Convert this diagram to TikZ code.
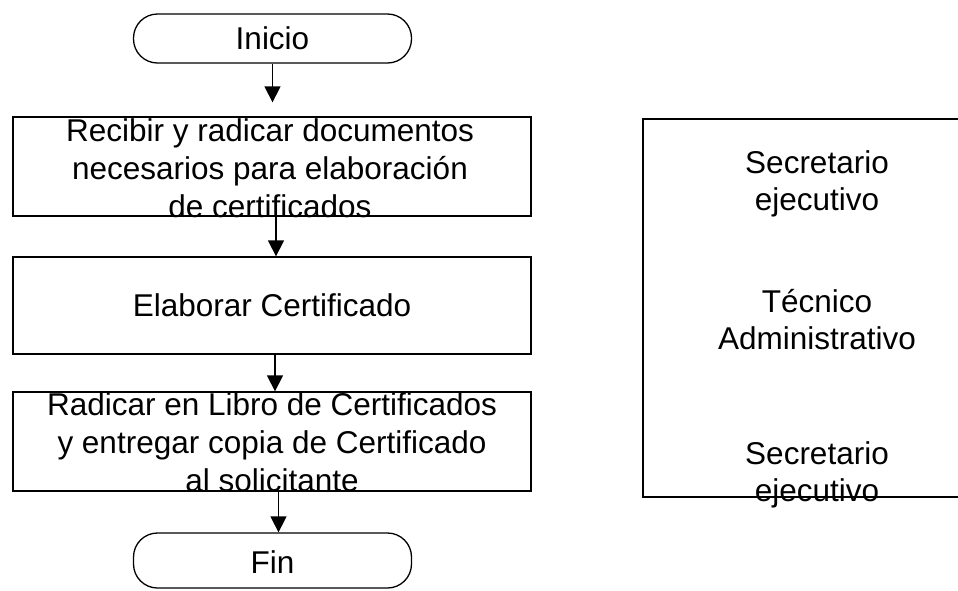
\documentclass[tikz,border=0pt]{standalone}
\usepackage{fontspec}
\setmainfont{Liberation Sans}
\usetikzlibrary{arrows.meta}
\begin{document}
\begin{tikzpicture}[x=1pt,y=-1pt,
  every node/.style={font=\fontsize{31.5}{38}\selectfont, inner sep=0pt},
  lbl/.style={align=center},
  procbox/.style={draw, line width=1.3pt, minimum width=518pt, minimum height=99pt},
  term/.style={draw, line width=1.3pt, rounded corners=24pt, minimum width=278pt},
  arr/.style={line width=1.3pt, -{Triangle[length=16pt,width=16pt]}},
  edge/.style={line width=1.3pt}
]
\useasboundingbox (0,0) rectangle (958,590);

% terminators
\node[term, minimum height=49pt] (inicio) at (272.5,38.5) {};
\node (tinicio) at (272.5,38.5) {Inicio};
\node[term, minimum height=55pt] (fin) at (272.5,560.5) {};
\node (tfin) at (272.5,562) {Fin};

% process boxes
\node[procbox, minimum height=99pt] (b1) at (272,166.5) {};
\node[procbox, minimum height=97pt] (b2) at (272,305.5) {};
\node[procbox, minimum height=99pt] (b3) at (272,441.5) {};

\node[lbl] (t1) at (270,168.5) {Recibir y radicar documentos\\necesarios para elaboración\\de certificados};
\node (t2) at (272,305) {Elaborar Certificado};
\node[lbl] (t3) at (272,442.5) {Radicar en Libro de Certificados\\y entregar copia de Certificado\\al solicitante};

% connectors
\draw[arr, shorten >=14pt] (inicio.south) -- (inicio.south |- b1.north);
\coordinate (s2) at (276,208);
\draw[arr] (s2) -- (s2 |- b2.north);
\coordinate (s3) at (275,354);
\draw[arr] (s3) -- (s3 |- b3.north);
\coordinate (s4) at (278.5,491);
\draw[arr] (s4) -- (s4 |- fin.north);

% roles box (right side, open at the page edge)
\coordinate (r1) at (958,119);
\coordinate (r2) at (643,119);
\coordinate (r3) at (643,497);
\coordinate (r4) at (958,497);
\draw[edge] (r1) -- (r2) -- (r3) -- (r4);

\begin{scope}[every node/.style={font=\fontsize{31.5}{37}\selectfont, inner sep=0pt, align=center}]
\node (rol1) at (817,183.5) {Secretario\\ejecutivo};
\node (rol2) at (817,320) {Técnico\\Administrativo};
\node (rol3) at (817,474.7) {Secretario\\ejecutivo};
\end{scope}
\end{tikzpicture}
\end{document}
